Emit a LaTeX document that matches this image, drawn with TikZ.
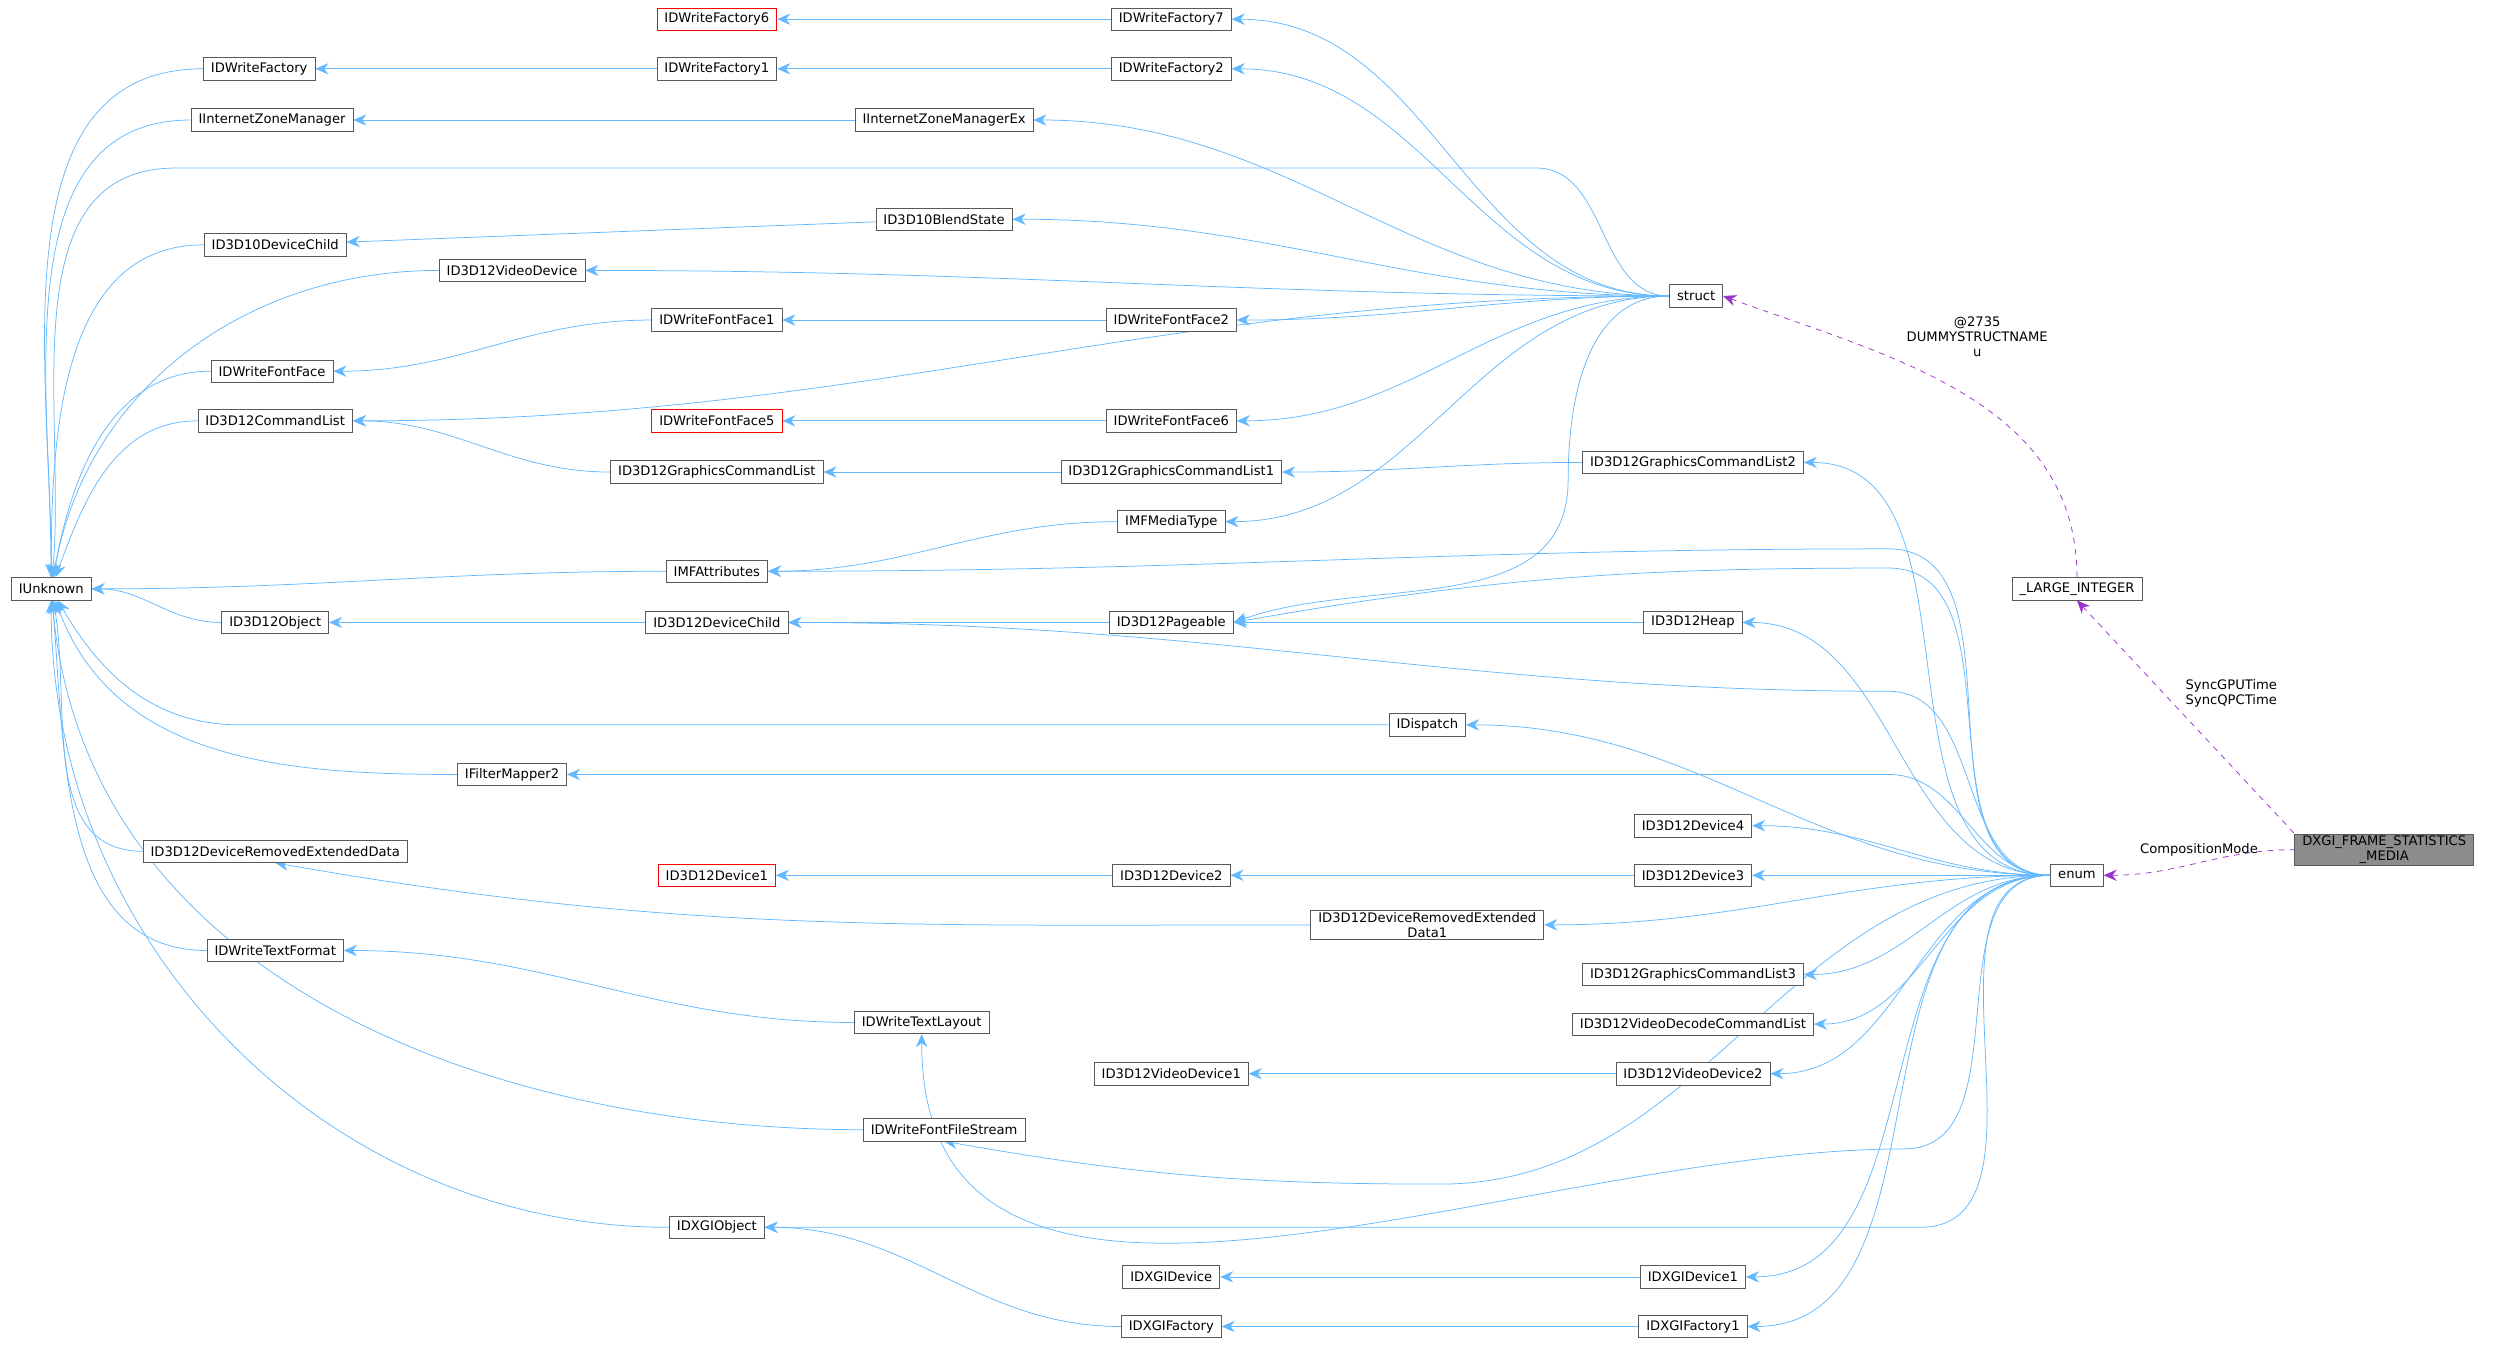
\documentclass[tikz,border=0pt]{standalone}
\usepackage{fontspec}
\setmainfont{DejaVu Sans}
\usetikzlibrary{positioning,arrows.meta}
\definecolor{inhblue}{HTML}{63B8FF}
\definecolor{usepurple}{HTML}{9A32CD}
\pgfdeclarelayer{background}
\pgfsetlayers{background,main}
\begin{document}
\begin{tikzpicture}[
  x=0.03cm, y=-0.03cm,
  cls/.style={rectangle, draw=black!65, fill=white, minimum height=0.42cm, inner xsep=4pt, inner ysep=1pt, align=center, font=\fontsize{7}{8}\selectfont},
  trunc/.style={cls, draw=red},
  self/.style={cls, fill=black!45},
  inh/.style={{Stealth[length=7pt,width=6pt]}-, draw=inhblue, thin},
  use/.style={{Stealth[length=7pt,width=6pt]}-, draw=usepurple, dashed, thin},
  lbl/.style={font=\fontsize{7}{8}\selectfont, align=center}
]
\useasboundingbox (0,0) rectangle (1568,841);

% Column 0
\node[cls] (IUnknown) at (32,368) {IUnknown};

% Column 1
\node[cls] (WFactory) at (162,43) {IDWriteFactory};
\node[cls] (IZoneMgr) at (170,75) {IInternetZoneManager};
\node[cls] (D10Child) at (172,153) {ID3D10DeviceChild};
\node[cls] (FontFace) at (170,232) {IDWriteFontFace};
\node[cls] (CmdList) at (172,263) {ID3D12CommandList};
\node[cls] (D12Object) at (172,389) {ID3D12Object};
\node[cls] (DRED) at (172,532) {ID3D12DeviceRemovedExtendedData};
\node[cls] (TextFormat) at (172,594) {IDWriteTextFormat};

% Column 2
\node[trunc] (WFactory6) at (448,12) {IDWriteFactory6};
\node[cls] (WFactory1) at (448,43) {IDWriteFactory1};
\node[cls] (IZoneMgrEx) at (590,75) {IInternetZoneManagerEx};
\node[cls] (BlendState) at (590,137) {ID3D10BlendState};
\node[cls] (VideoDev) at (320,169) {ID3D12VideoDevice};
\node[cls] (FontFace1) at (448,200) {IDWriteFontFace1};
\node[trunc] (FontFace5) at (448,263) {IDWriteFontFace5};
\node[cls] (GfxList) at (448,295) {ID3D12GraphicsCommandList};
\node[cls] (MFAttr) at (448,357) {IMFAttributes};
\node[cls] (D12Child) at (448,389) {ID3D12DeviceChild};
\node[cls] (FilterMap) at (320,484) {IFilterMapper2};
\node[trunc] (Device1) at (448,547) {ID3D12Device1};
\node[cls] (TextLayout) at (576,639) {IDWriteTextLayout};
\node[cls] (FileStream) at (590,706) {IDWriteFontFileStream};
\node[cls] (DXGIObject) at (448,767) {IDXGIObject};

% Column 3
\node[cls] (WFactory7) at (732,12) {IDWriteFactory7};
\node[cls] (WFactory2) at (732,43) {IDWriteFactory2};
\node[cls] (FontFace2) at (732,200) {IDWriteFontFace2};
\node[cls] (FontFace6) at (732,263) {IDWriteFontFace6};
\node[cls] (GfxList1) at (732,295) {ID3D12GraphicsCommandList1};
\node[cls] (MediaType) at (732,326) {IMFMediaType};
\node[cls] (Pageable) at (732,389) {ID3D12Pageable};
\node[cls] (Device2) at (732,547) {ID3D12Device2};
\node[cls] (VideoDev1) at (732,671) {ID3D12VideoDevice1};
\node[cls] (DXGIDevice) at (732,798) {IDXGIDevice};
\node[cls] (DXGIFactory) at (732,829) {IDXGIFactory};

% Column 4
\node[cls] (Struct) at (1060,185) {struct};
\node[cls] (GfxList2) at (1058,289) {ID3D12GraphicsCommandList2};
\node[cls] (Heap) at (1058,389) {ID3D12Heap};
\node[cls] (Dispatch) at (892,453) {IDispatch};
\node[cls] (Device4) at (1058,516) {ID3D12Device4};
\node[cls] (Device3) at (1058,547) {ID3D12Device3};
\node[cls] (DRED1) at (892,578) {ID3D12DeviceRemovedExtended\\Data1};
\node[cls] (GfxList3) at (1058,609) {ID3D12GraphicsCommandList3};
\node[cls] (DecodeList) at (1058,640) {ID3D12VideoDecodeCommandList};
\node[cls] (VideoDev2) at (1058,671) {ID3D12VideoDevice2};
\node[cls] (DXGIDevice1) at (1058,798) {IDXGIDevice1};
\node[cls] (DXGIFactory1) at (1058,829) {IDXGIFactory1};

% Column 5 and 6
\node[cls] (LargeInt) at (1298,368) {\_LARGE\_INTEGER};
\node[cls] (Enum) at (1298,547) {enum};
\node[self] (FrameStats) at (1490,531) {DXGI\_FRAME\_STATISTICS\\\_MEDIA};

% bend points of the long connectors
\coordinate (sTopL) at (110,105);
\coordinate (sTopR) at (960,105);
\coordinate (dispL) at (150,453);
\coordinate (mfR) at (1180,343);
\coordinate (pgR) at (1180,355);
\coordinate (dcR) at (1180,432);
\coordinate (fmR) at (1180,484);
\coordinate (tlR) at (1190,718);
\coordinate (fsR) at (900,740);
\coordinate (doR) at (1200,767);
\coordinate (pgS) at (980,300);

\begin{pgfonlayer}{background}
% IUnknown -> direct children
\draw[inh] (IUnknown) to[out=90,in=180] (WFactory.west);
\draw[inh] (IUnknown) to[out=90,in=180] (IZoneMgr.west);
\draw[inh] (IUnknown) to[out=90,in=180] (D10Child.west);
\draw[inh] (IUnknown) to[out=80,in=180] (VideoDev.west);
\draw[inh] (IUnknown) to[out=80,in=180] (FontFace.west);
\draw[inh] (IUnknown) to[out=70,in=180] (CmdList.west);
\draw[inh] (IUnknown.east) to[out=0,in=180] (MFAttr.west);
\draw[inh] (IUnknown.east) to[out=0,in=180] (D12Object.west);
\draw[inh] (IUnknown) to[out=-60,in=180] (dispL) -- (Dispatch.west);
\draw[inh] (IUnknown) to[out=-70,in=180] (FilterMap.west);
\draw[inh] (IUnknown) to[out=-80,in=180] (DRED.west);
\draw[inh] (IUnknown) to[out=-85,in=180] (TextFormat.west);
\draw[inh] (IUnknown) to[out=-85,in=180] (FileStream.west);
\draw[inh] (IUnknown) to[out=-90,in=180] (DXGIObject.west);
\draw[inh] (IUnknown) to[out=85,in=180] (sTopL) -- (sTopR) to[out=0,in=180] (Struct.west);

% Chains towards struct
\draw[inh] (WFactory6) -- (WFactory7);
\draw[inh] (WFactory) -- (WFactory1);
\draw[inh] (WFactory1) -- (WFactory2);
\draw[inh] (WFactory7.east) to[out=0,in=180] (Struct.west);
\draw[inh] (WFactory2.east) to[out=0,in=180] (Struct.west);
\draw[inh] (IZoneMgr) -- (IZoneMgrEx);
\draw[inh] (IZoneMgrEx.east) to[out=0,in=180] (Struct.west);
\draw[inh] (D10Child) -- (BlendState);
\draw[inh] (BlendState.east) to[out=0,in=180] (Struct.west);
\draw[inh] (VideoDev.east) to[out=0,in=180] (Struct.west);
\draw[inh] (FontFace.east) to[out=0,in=180] (FontFace1.west);
\draw[inh] (FontFace1) -- (FontFace2);
\draw[inh] (FontFace2.east) to[out=0,in=180] (Struct.west);
\draw[inh] (CmdList.east) to[out=0,in=180] (Struct.west);
\draw[inh] (FontFace5) -- (FontFace6);
\draw[inh] (FontFace6.east) to[out=0,in=180] (Struct.west);
\draw[inh] (MediaType.east) to[out=0,in=180] (Struct.west);
\draw[inh] (Pageable.east) to[out=20,in=-90] (pgS) to[out=90,in=180] (Struct.west);

% Chains towards enum
\draw[inh] (CmdList.east) to[out=0,in=180] (GfxList.west);
\draw[inh] (GfxList) -- (GfxList1);
\draw[inh] (GfxList1.east) to[out=0,in=180] (GfxList2.west);
\draw[inh] (GfxList2.east) to[out=0,in=180] (Enum.west);
\draw[inh] (MFAttr.east) to[out=0,in=180] (MediaType.west);
\draw[inh] (MFAttr.east) to[out=0,in=180] (mfR) to[out=0,in=180] (Enum.west);
\draw[inh] (D12Object) -- (D12Child);
\draw[inh] (D12Child) -- (Pageable);
\draw[inh] (Pageable) -- (Heap);
\draw[inh] (Heap.east) to[out=0,in=180] (Enum.west);
\draw[inh] (Pageable.east) to[out=10,in=180] (pgR) to[out=0,in=180] (Enum.west);
\draw[inh] (D12Child.east) to[out=0,in=180] (dcR) to[out=0,in=180] (Enum.west);
\draw[inh] (Dispatch.east) to[out=0,in=180] (Enum.west);
\draw[inh] (FilterMap.east) -- (fmR) to[out=0,in=180] (Enum.west);
\draw[inh] (DRED.south) to[out=-10,in=180] (DRED1.west);
\draw[inh] (DRED1.east) to[out=0,in=180] (Enum.west);
\draw[inh] (Device4.east) to[out=0,in=180] (Enum.west);
\draw[inh] (Device1) -- (Device2);
\draw[inh] (Device2) -- (Device3);
\draw[inh] (Device3) -- (Enum);
\draw[inh] (GfxList3.east) to[out=0,in=180] (Enum.west);
\draw[inh] (DecodeList.east) to[out=0,in=180] (Enum.west);
\draw[inh] (TextFormat.east) to[out=0,in=180] (TextLayout.west);
\draw[inh] (TextLayout.south) to[out=-90,in=180] (tlR) to[out=0,in=180] (Enum.west);
\draw[inh] (VideoDev1) -- (VideoDev2);
\draw[inh] (VideoDev2.east) to[out=0,in=180] (Enum.west);
\draw[inh] (FileStream.south) to[out=-10,in=180] (fsR) to[out=0,in=180] (Enum.west);
\draw[inh] (DXGIObject.east) -- (doR) to[out=0,in=180] (Enum.west);
\draw[inh] (DXGIObject.east) to[out=0,in=180] (DXGIFactory.west);
\draw[inh] (DXGIFactory) -- (DXGIFactory1);
\draw[inh] (DXGIFactory1.east) to[out=0,in=180] (Enum.west);
\draw[inh] (DXGIDevice) -- (DXGIDevice1);
\draw[inh] (DXGIDevice1.east) to[out=0,in=180] (Enum.west);

% Usage relations
\draw[use] (Struct.east) to[out=-20,in=90] node[lbl, pos=0.35, above right=-2pt and 2pt] {@2735\\DUMMYSTRUCTNAME\\u} (LargeInt.north);
\draw[use] (LargeInt.south) -- node[lbl, pos=0.4, right=8pt] {SyncGPUTime\\SyncQPCTime} (FrameStats.north west);
\draw[use] (Enum.east) to[out=0,in=180] node[lbl, above] {CompositionMode} (FrameStats.west);
\end{pgfonlayer}

\end{tikzpicture}
\end{document}
